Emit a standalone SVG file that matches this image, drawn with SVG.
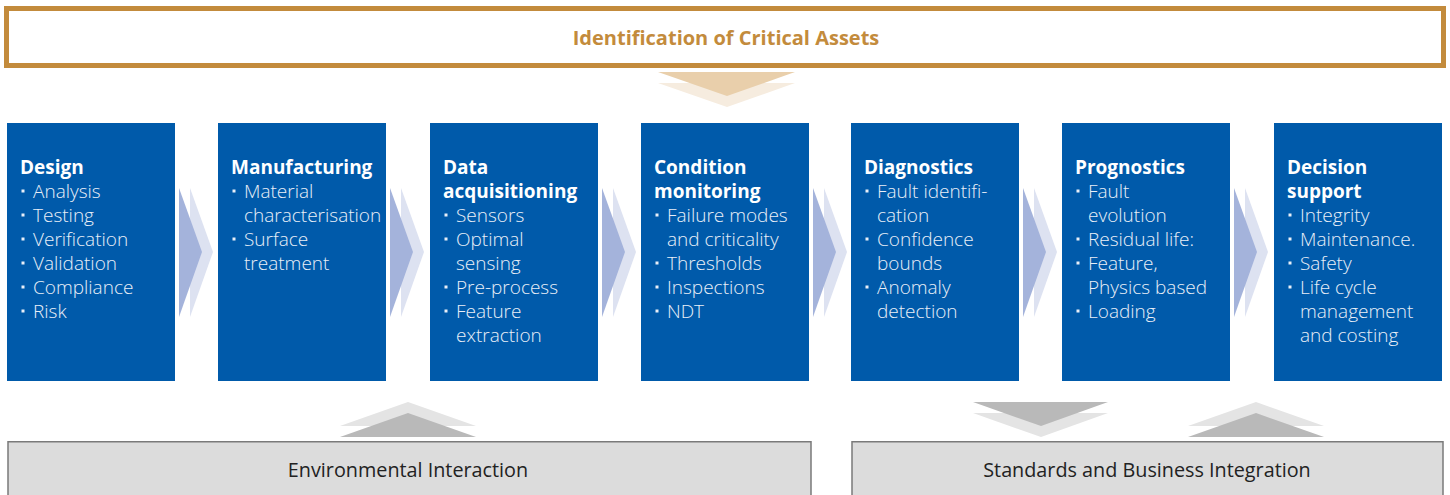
<svg xmlns="http://www.w3.org/2000/svg" width="1450" height="495" viewBox="0 0 1450 495">
  <style>
    .banner { fill: #ffffff; stroke: #C38B3C; stroke-width: 5; }
    .banner-label { font-family: "Open Sans", "Liberation Sans", sans-serif; font-size: 20px; font-weight: 700; fill: #C38B3C; text-anchor: middle; }
    .stage { fill: #005AAA; }
    .head { font-family: "Open Sans", "Liberation Sans", sans-serif; font-size: 19px; font-weight: 700; fill: #ffffff; }
    .item { font-family: "Open Sans", "Liberation Sans", sans-serif; font-size: 19px; font-weight: 300; fill: #E9EFF8; }
    .dot { fill: #E9EFF8; }
    .base { fill: #DCDCDC; stroke: #7A7A7A; stroke-width: 1.5; }
    .base-label { font-family: "Open Sans", "Liberation Sans", sans-serif; font-size: 19.8px; fill: #222222; text-anchor: middle; }
    .gold-dark { fill: #E9CFAB; }
    .gold-light { fill: #F6ECDF; }
    .blue-dark { fill: #A4B3DB; }
    .blue-light { fill: #DDE2F1; }
    .grey-dark { fill: #B9B9B9; }
    .grey-light { fill: #E4E4E4; }
  </style>
  <defs>
    <!-- bullet dot, placed at the left of each list line -->
    <rect id="bullet" x="-1.5" y="-1.5" width="3" height="3"/>
    <!-- double chevron pointing right between stages -->
    <g id="step-arrow">
      <polygon class="blue-light" points="11,0 34,64 11,129"/>
      <polygon class="blue-dark" points="0,0 23,64 0,129"/>
    </g>
  </defs>

  <!-- top banner -->
  <g id="critical-assets">
    <rect class="banner" x="6.5" y="8.5" width="1437" height="57"/>
    <text class="banner-label" x="726" y="45">Identification of Critical Assets</text>
  </g>

  <!-- connectors: chevrons -->
  <g id="connectors">
    <!-- banner down to stages -->
    <polygon class="gold-light" points="658,83 795,83 727,107"/>
    <polygon class="gold-dark" points="658,72 795,72 727,96"/>

    <!-- stage to stage -->
    <use href="#step-arrow" x="179" y="188"/>
    <use href="#step-arrow" x="390" y="188"/>
    <use href="#step-arrow" x="602" y="188"/>
    <use href="#step-arrow" x="813" y="188"/>
    <use href="#step-arrow" x="1023" y="188"/>
    <use href="#step-arrow" x="1234" y="188"/>

    <!-- environmental interaction up -->
    <polygon class="grey-light" points="340,426 408,402 476,426"/>
    <polygon class="grey-dark" points="340,437 408,413 476,437"/>

    <!-- standards down -->
    <polygon class="grey-light" points="973,413 1108,413 1041,437"/>
    <polygon class="grey-dark" points="973,402 1108,402 1041,426"/>

    <!-- standards up -->
    <polygon class="grey-light" points="1188,426 1256,402 1324,426"/>
    <polygon class="grey-dark" points="1188,437 1256,413 1324,437"/>
  </g>

  <!-- stages -->
  <g id="design">
    <rect class="stage" x="7" y="123" width="168" height="258"/>
    <text class="head" x="20" y="174">Design</text>
    <g class="dot">
      <use href="#bullet" x="23" y="191"/><use href="#bullet" x="23" y="215"/><use href="#bullet" x="23" y="239"/>
      <use href="#bullet" x="23" y="263"/><use href="#bullet" x="23" y="287"/><use href="#bullet" x="23" y="311"/>
    </g>
    <text class="item" x="33" y="198">Analysis</text>
    <text class="item" x="33" y="222">Testing</text>
    <text class="item" x="33" y="246">Verification</text>
    <text class="item" x="33" y="270">Validation</text>
    <text class="item" x="33" y="294">Compliance</text>
    <text class="item" x="33" y="318">Risk</text>
  </g>

  <g id="manufacturing">
    <rect class="stage" x="218" y="123" width="168" height="258"/>
    <text class="head" x="231" y="174">Manufacturing</text>
    <g class="dot">
      <use href="#bullet" x="234" y="191"/><use href="#bullet" x="234" y="239"/>
    </g>
    <text class="item" x="244" y="198">Material</text>
    <text class="item" x="244" y="222">characterisation</text>
    <text class="item" x="244" y="246">Surface</text>
    <text class="item" x="244" y="270">treatment</text>
  </g>

  <g id="data-acquisitioning">
    <rect class="stage" x="430" y="123" width="168" height="258"/>
    <text class="head" x="443" y="174">Data</text>
    <text class="head" x="443" y="198">acquisitioning</text>
    <g class="dot">
      <use href="#bullet" x="446" y="215"/><use href="#bullet" x="446" y="239"/>
      <use href="#bullet" x="446" y="287"/><use href="#bullet" x="446" y="311"/>
    </g>
    <text class="item" x="456" y="222">Sensors</text>
    <text class="item" x="456" y="246">Optimal</text>
    <text class="item" x="456" y="270">sensing</text>
    <text class="item" x="456" y="294">Pre-process</text>
    <text class="item" x="456" y="318">Feature</text>
    <text class="item" x="456" y="342">extraction</text>
  </g>

  <g id="condition-monitoring">
    <rect class="stage" x="641" y="123" width="168" height="258"/>
    <text class="head" x="654" y="174">Condition</text>
    <text class="head" x="654" y="198">monitoring</text>
    <g class="dot">
      <use href="#bullet" x="657" y="215"/><use href="#bullet" x="657" y="263"/>
      <use href="#bullet" x="657" y="287"/><use href="#bullet" x="657" y="311"/>
    </g>
    <text class="item" x="667" y="222">Failure modes</text>
    <text class="item" x="667" y="246">and criticality</text>
    <text class="item" x="667" y="270">Thresholds</text>
    <text class="item" x="667" y="294">Inspections</text>
    <text class="item" x="667" y="318">NDT</text>
  </g>

  <g id="diagnostics">
    <rect class="stage" x="851" y="123" width="168" height="258"/>
    <text class="head" x="864" y="174">Diagnostics</text>
    <g class="dot">
      <use href="#bullet" x="867" y="191"/><use href="#bullet" x="867" y="239"/><use href="#bullet" x="867" y="287"/>
    </g>
    <text class="item" x="877" y="198">Fault identifi-</text>
    <text class="item" x="877" y="222">cation</text>
    <text class="item" x="877" y="246">Confidence</text>
    <text class="item" x="877" y="270">bounds</text>
    <text class="item" x="877" y="294">Anomaly</text>
    <text class="item" x="877" y="318">detection</text>
  </g>

  <g id="prognostics">
    <rect class="stage" x="1062" y="123" width="168" height="258"/>
    <text class="head" x="1075" y="174">Prognostics</text>
    <g class="dot">
      <use href="#bullet" x="1078" y="191"/><use href="#bullet" x="1078" y="239"/>
      <use href="#bullet" x="1078" y="263"/><use href="#bullet" x="1078" y="311"/>
    </g>
    <text class="item" x="1088" y="198">Fault</text>
    <text class="item" x="1088" y="222">evolution</text>
    <text class="item" x="1088" y="246">Residual life:</text>
    <text class="item" x="1088" y="270">Feature,</text>
    <text class="item" x="1088" y="294">Physics based</text>
    <text class="item" x="1088" y="318">Loading</text>
  </g>

  <g id="decision-support">
    <rect class="stage" x="1274" y="123" width="168" height="258"/>
    <text class="head" x="1287" y="174">Decision</text>
    <text class="head" x="1287" y="198">support</text>
    <g class="dot">
      <use href="#bullet" x="1290" y="215"/><use href="#bullet" x="1290" y="239"/>
      <use href="#bullet" x="1290" y="263"/><use href="#bullet" x="1290" y="287"/>
    </g>
    <text class="item" x="1300" y="222">Integrity</text>
    <text class="item" x="1300" y="246">Maintenance.</text>
    <text class="item" x="1300" y="270">Safety</text>
    <text class="item" x="1300" y="294">Life cycle</text>
    <text class="item" x="1300" y="318">management</text>
    <text class="item" x="1300" y="342">and costing</text>
  </g>

  <!-- base layers -->
  <g id="environmental-interaction">
    <rect class="base" x="8" y="441.75" width="803" height="60"/>
    <text class="base-label" x="408" y="477">Environmental Interaction</text>
  </g>

  <g id="standards-business">
    <rect class="base" x="852" y="441.75" width="591" height="60"/>
    <text class="base-label" x="1147" y="477">Standards and Business Integration</text>
  </g>
</svg>
